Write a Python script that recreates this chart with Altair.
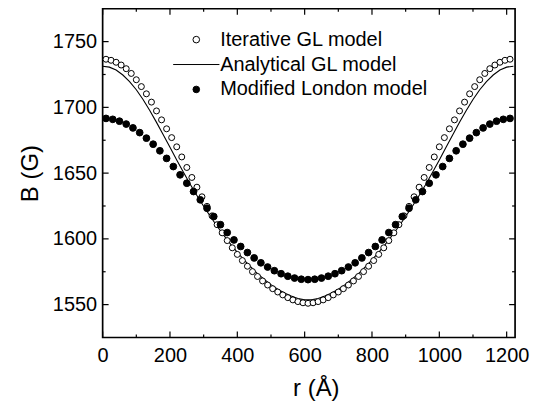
import altair as alt
import pandas as pd

# ---------------- data ----------------
names = ["Iterative GL model", "Analytical GL model", "Modified London model"]

# Iterative GL model (open circles)
r_iter = list(range(10, 1211, 15))
b_iter = [1736.6, 1735.8, 1734.3, 1732.2, 1729.4, 1725.8, 1721.0, 1715.8, 1710.3, 1704.0,
          1697.3, 1690.5, 1683.7, 1677.0, 1670.0, 1662.3, 1654.3, 1646.7, 1639.3, 1632.0,
          1624.7, 1617.5, 1610.8, 1604.6, 1598.7, 1593.2, 1588.2, 1583.5, 1579.2, 1575.1,
          1571.4, 1568.0, 1564.9, 1562.1, 1559.6, 1557.4, 1555.3, 1553.6, 1552.3, 1551.4,
          1551.0,
          1551.4, 1552.3, 1553.6, 1555.3, 1557.4, 1559.6, 1562.1, 1564.9, 1568.0, 1571.4,
          1575.1, 1579.2, 1583.5, 1588.2, 1593.2, 1598.7, 1604.6, 1610.8, 1617.5, 1624.7,
          1632.0, 1639.3, 1646.7, 1654.3, 1662.3, 1670.0, 1677.0, 1683.7, 1690.5, 1697.3,
          1704.0, 1710.3, 1715.8, 1721.0, 1725.8, 1729.4, 1732.2, 1734.3, 1735.8, 1736.6]

# Modified London model (filled circles)
r_lond = list(range(10, 1211, 20))
b_lond = [1691.6, 1690.9, 1689.5, 1687.3, 1684.4, 1680.8, 1676.6, 1672.0, 1667.0, 1661.2,
          1655.0, 1648.7, 1642.3, 1636.0, 1629.7, 1623.3, 1617.0, 1610.8, 1604.8, 1599.2,
          1594.2, 1589.6, 1585.5, 1581.8, 1578.6, 1575.8, 1573.5, 1571.6, 1570.2, 1569.3,
          1569.0,
          1569.3, 1570.2, 1571.6, 1573.5, 1575.8, 1578.6, 1581.8, 1585.5, 1589.6, 1594.2,
          1599.2, 1604.8, 1610.8, 1617.0, 1623.3, 1629.7, 1636.0, 1642.3, 1648.7, 1655.0,
          1661.2, 1667.0, 1672.0, 1676.6, 1680.8, 1684.4, 1687.3, 1689.5, 1690.9, 1691.6]

# Analytical GL model (solid line)
r_anal = list(range(0, 1221, 20))
b_anal = [1731.3, 1730.6, 1728.4, 1724.6, 1719.6, 1713.4, 1706.0, 1697.6, 1688.6, 1679.2,
          1669.6, 1660.0, 1650.6, 1641.6, 1633.0, 1624.8, 1617.0, 1609.6, 1602.6, 1596.0,
          1589.8, 1584.0, 1578.6, 1573.6, 1569.2, 1565.2, 1561.8, 1558.9, 1556.5, 1554.7,
          1553.6,
          1553.6, 1554.7, 1556.5, 1558.9, 1561.8, 1565.2, 1569.2, 1573.6, 1578.6, 1584.0,
          1589.8, 1596.0, 1602.6, 1609.6, 1617.0, 1624.8, 1633.0, 1641.6, 1650.6, 1660.0,
          1669.6, 1679.2, 1688.6, 1697.6, 1706.0, 1713.4, 1719.6, 1724.6, 1728.4, 1730.6,
          1731.3]

x_major = [0, 200, 400, 600, 800, 1000, 1200]
x_minor = [100, 300, 500, 700, 900, 1100]
y_major = [1550, 1600, 1650, 1700, 1750]
y_minor = [1575, 1625, 1675, 1725]

# ---------------- tables ----------------
df_iter = pd.DataFrame({"r": r_iter, "B": b_iter, "series": names[0]})
df_lond = pd.DataFrame({"r": r_lond, "B": b_lond, "series": names[2]})
df_line = pd.DataFrame({"r": r_anal, "B": b_anal})
df_xmaj = pd.DataFrame({"r": x_major})
df_xmin = pd.DataFrame({"r": x_minor})
df_ymaj = pd.DataFrame({"B": y_major})
df_ymin = pd.DataFrame({"B": y_minor})

FONT = "Liberation Sans"
W, H = 414, 330

x_scale = alt.Scale(domain=[0, 1225], nice=False, zero=False)
y_scale = alt.Scale(domain=[1525, 1775], nice=False, zero=False)

x_main = alt.Axis(orient="bottom", values=x_major, format="d", tickSize=0, domain=False,
                  grid=False, labelPadding=8, labelFlush=False, labelFontSize=20,
                  labelFont=FONT, labelColor="black", title="r (Å)", titleFont=FONT,
                  titleFontSize=24, titleFontWeight="normal", titleColor="black",
                  titleX=214, titleY=51, titleBaseline="middle", titleAlign="center")
y_main = alt.Axis(orient="left", values=y_major, format="d", tickSize=0, domain=False,
                  grid=False, labelPadding=6, labelFlush=False, labelFontSize=20,
                  labelFont=FONT, labelColor="black", title="B (G)", titleFont=FONT,
                  titleFontSize=24, titleFontWeight="normal", titleColor="black",
                  titleX=-72, titleY=165, titleBaseline="middle", titleAlign="center",
                  titleAngle=270)

X = lambda: alt.X("r:Q", scale=x_scale, axis=x_main)
Y = lambda: alt.Y("B:Q", scale=y_scale, axis=y_main)

line = alt.Chart(df_line).mark_line(color="black", strokeWidth=1.1).encode(x=X(), y=Y())

leg = alt.Legend(orient="none", legendX=84, legendY=21, title=None, padding=0,
                 labelFont=FONT, labelFontSize=20, labelColor="black", labelLimit=400,
                 labelOffset=14, rowPadding=5, symbolSize=44, symbolStrokeWidth=1)

series_enc = dict(
    shape=alt.Shape("series:N", scale=alt.Scale(domain=names,
                    range=["circle", "M-7,0L7,0", "circle"]), legend=leg),
    fill=alt.Fill("series:N", scale=alt.Scale(domain=names,
                  range=["white", "white", "black"]), legend=leg),
    stroke=alt.Stroke("series:N", scale=alt.Scale(domain=names,
                      range=["black", "black", "black"]), legend=leg),
)

pts_iter = alt.Chart(df_iter).mark_point(size=36, filled=True, opacity=1,
                                         strokeWidth=1).encode(x=X(), y=Y(), **series_enc)
pts_lond = alt.Chart(df_lond).mark_point(size=46, filled=True, opacity=1,
                                         strokeWidth=1).encode(x=X(), y=Y(), **series_enc)

# inward tick marks on all four sides, placed through the shared scales
tick_style = dict(color="black", strokeWidth=1.2)
xt_maj_b = alt.Chart(df_xmaj).mark_rule(**tick_style).encode(
    x=X(), y=alt.value(H), y2=alt.value(H - 6))
xt_maj_t = alt.Chart(df_xmaj).mark_rule(**tick_style).encode(
    x=X(), y=alt.value(0), y2=alt.value(6))
xt_min_b = alt.Chart(df_xmin).mark_rule(**tick_style).encode(
    x=X(), y=alt.value(H), y2=alt.value(H - 3))
xt_min_t = alt.Chart(df_xmin).mark_rule(**tick_style).encode(
    x=X(), y=alt.value(0), y2=alt.value(3))
yt_maj_l = alt.Chart(df_ymaj).mark_rule(**tick_style).encode(
    y=Y(), x=alt.value(0), x2=alt.value(6))
yt_maj_r = alt.Chart(df_ymaj).mark_rule(**tick_style).encode(
    y=Y(), x=alt.value(W), x2=alt.value(W - 6))
yt_min_l = alt.Chart(df_ymin).mark_rule(**tick_style).encode(
    y=Y(), x=alt.value(0), x2=alt.value(3))
yt_min_r = alt.Chart(df_ymin).mark_rule(**tick_style).encode(
    y=Y(), x=alt.value(W), x2=alt.value(W - 3))

chart = alt.layer(
    line, pts_iter, pts_lond, xt_maj_b, xt_maj_t, xt_min_b, xt_min_t,
    yt_maj_l, yt_maj_r, yt_min_l, yt_min_r,
).properties(
    width=W, height=H,
    padding={"left": 95, "top": 0, "right": 20, "bottom": 63},
    autosize=alt.AutoSizeParams(type="none"),
    background="white",
).configure_view(stroke="black", strokeWidth=1.7)

chart.save("out.html", embed_options={"renderer": "svg", "actions": False})
